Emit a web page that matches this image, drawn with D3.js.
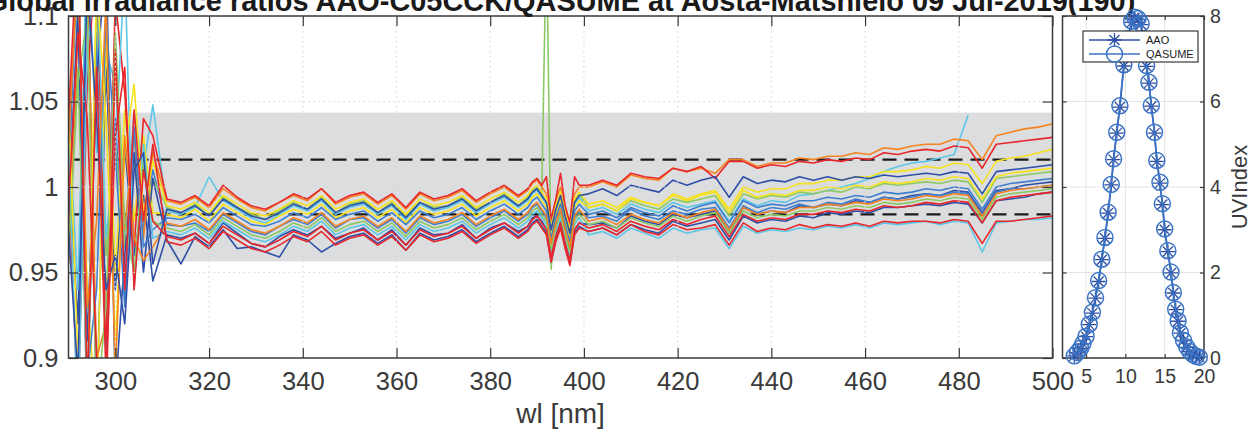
<!DOCTYPE html>
<html>
<head>
<meta charset="utf-8">
<script src="https://cdn.jsdelivr.net/npm/d3@7/dist/d3.min.js"></script>
<style>
  body { margin: 0; background: #fff; }
  svg { display: block; font-family: 'Liberation Sans', Arial, sans-serif; }
</style>
</head>
<body>
<div id="chart"></div>
<script>
// wavelength grid [nm]
const wl = [290, 292, 294, 296, 298, 300, 302, 304, 306, 308,
  311, 314, 317, 320, 323, 326, 329, 332, 335, 338, 341, 344, 347, 350, 353, 356, 359, 362, 365, 368, 371, 374, 377, 380, 383, 386,
  388, 389, 390, 391, 392, 393, 394, 395, 396, 397, 398, 399,
  401, 404, 407, 410, 413, 416, 419, 422, 425, 428, 431, 434, 437, 440, 443, 446, 449, 452, 455, 458, 461, 464, 467, 470, 473, 476, 479, 482, 485, 488, 491, 494, 497, 500];

// AAO/QASUME ratio of each scan, per mille away from 1 (null = no data)
const scan01 = [15, -80, 140, -130, 70, -60, 25, -40, -5, -55,
  -28, -30, -27, -33, -21, -27, -33, -35, -29, -25, -28, -23, -30, -27, -24, -31, -25, -34, -24, -28, -27, -22, -30, -24, -21, -26, -23, -18, -17, -20, -25, -40, -29, -20, -33, -42, -25, -21,
  -22, -21, -24, -17, -20, -22, -16, -18, -16, -14, -27, -12, -16, -14, -15, -11, -12, -10, -11, -8, -9, -6, -7, -5, -4, -5, -2, -3, -15, -2, -1, 1, 2, 3];
const scan02 = [-30, 110, -140, 90, -100, 40, -55, 20, -25, 10,
  -22, -23, -21, -26, -16, -21, -26, -28, -23, -19, -22, -16, -24, -19, -18, -24, -19, -27, -18, -22, -20, -16, -23, -18, -14, -20, -16, -12, -10, -14, -18, -34, -22, -14, -26, -36, -18, -14,
  -18, -17, -20, -13, -17, -19, -14, -16, -13, -12, -24, -11, -15, -12, -13, -10, -12, -9, -10, -7, -9, -6, -7, -6, -4, -5, -3, -4, -16, -3, -1, -1, 0, 1];
const scan03 = [40, -60, 150, 20, 80, 60, -30, 43, 10, 48,
  -14, -16, -12, 6, -8, -13, -18, -21, -16, -11, -14, -8, -16, -12, -10, -16, -11, -19, -10, -14, -12, -8, -15, -10, -6, -12, -8, -4, -2, -6, -10, -26, -14, -6, -18, -28, -10, -6,
  -14, -12, -16, -10, -13, -15, -9, -12, -10, -8, -20, -7, -11, -8, -9, -5, -4, -2, 0, 2, 5, 9, 12, 14, 15, 17, 19, 42, null, null, null, null, null, null];
const scan04 = [-20, 70, -120, 110, -40, 25, -35, 15, -20, 5,
  -12, -15, -10, -17, -6, -12, -16, -19, -14, -9, -13, -6, -15, -10, -8, -15, -9, -17, -9, -12, -11, -6, -13, -9, -4, -11, -6, -2, 0, -4, 150, -48, -12, -4, -16, -26, -8, -4,
  -12, -10, -14, -8, -11, -13, -7, -9, -7, -5, -17, -4, -7, -5, -6, -3, -4, -2, -3, 0, -1, 2, 1, 2, 3, 2, 4, 3, -9, 5, 6, 7, 8, 9];
const scan05 = [35, 120, -60, -140, 90, -50, 45, -20, 30, -15,
  -16, -18, -13, -20, -10, -15, -20, -22, -17, -13, -16, -10, -18, -14, -12, -18, -13, -21, -12, -16, -14, -10, -17, -12, -8, -14, -10, -6, -4, -8, -12, -28, -16, -8, -20, -30, -12, -8,
  -12, -10, -14, -7, -9, -11, -4, -7, -4, -2, -13, 0, -3, -1, -1, 2, 2, 4, 4, 6, 6, 9, 9, 10, 12, 11, 14, 13, 2, 15, 17, 18, 20, 22];
const scan06 = [-45, 90, 130, -100, -80, 70, -25, 30, -30, 20,
  -8, -10, -6, -12, -1, -7, -12, -14, -9, -5, -8, -1, -10, -6, -4, -10, -5, -13, -4, -8, -6, -2, -9, -4, 0, -6, -2, 2, 4, 0, -4, -20, -8, 0, -12, -22, -4, 0,
  0, 3, 0, 7, 5, 4, 11, 9, 11, 8, 16, 16, 12, 14, 14, 17, 16, 18, 18, 20, 19, 23, 22, 24, 25, 25, 28, 27, 16, 30, 32, 34, 35, 37];
const scan07 = [10, -130, 60, 140, -90, 110, 55, -35, 40, 30,
  -7, -9, -5, -11, 1, -6, -11, -13, -9, -4, -7, -1, -9, -5, -3, -9, -4, -12, -3, -7, -5, -1, -8, -3, 1, -5, -1, 3, 5, 1, 6, -19, -7, 8, -11, -21, 6, 1,
  1, 4, 1, 8, 6, 5, 11, 9, 12, 5, 15, 15, 11, 13, 12, 15, 14, 16, 15, 17, 16, 20, 19, 21, 22, 21, 24, 23, 11, 25, 26, 27, 28, 29];
const scan08 = [-15, 100, -90, 60, 140, -120, -40, 20, -50, 5,
  -31, -45, -29, -35, -25, -36, -35, -38, -41, -28, -31, -38, -33, -29, -27, -33, -28, -37, -27, -31, -29, -25, -32, -27, -23, -29, -25, -21, -19, -23, -27, -43, -31, -23, -35, -45, -27, -23,
  -26, -24, -28, -22, -25, -27, -20, -23, -21, -19, -31, -17, -21, -19, -20, -17, -18, -15, -16, -14, -15, -12, -12, -11, -10, -11, -9, -10, -21, -8, -7, -6, -4, -3];
const scan09 = [0, 140, -110, -60, 100, 20, -70, 35, -35, -25,
  -18, -19, -16, -21, -12, -17, -22, -23, -20, -15, -18, -12, -19, -16, -14, -20, -15, -22, -14, -18, -16, -12, -19, -14, -10, -16, -12, -8, -6, -10, -14, -30, -18, -10, -22, -32, -14, -10,
  -16, -14, -18, -12, -15, -17, -11, -14, -11, -9, -21, -8, -12, -10, -11, -8, -8, -6, -7, -5, -6, -3, -4, -3, -1, -2, 0, -1, -13, 0, 2, 3, 4, 5];
const scan10 = [30, -140, 80, 130, -30, 20, 130, -60, 25, -30,
  -26, -28, -24, -30, -20, -25, -30, -32, -28, -23, -26, -20, -28, -24, -22, -28, -23, -31, -22, -26, -24, -20, -27, -22, -18, -24, -20, -16, -14, -18, -22, -38, -26, -18, -30, -40, -22, -18,
  -28, -26, -30, -24, -27, -30, -24, -27, -25, -24, -36, -23, -27, -25, -26, -24, -25, -23, -24, -22, -24, -21, -22, -21, -20, -22, -20, -21, -38, -21, -20, -19, -19, -18];
const scan11 = [-40, 60, 100, -130, -70, 90, -20, -50, 15, -20,
  -24, -26, -22, -28, -18, -23, -28, -30, -26, -21, -24, -18, -26, -22, -20, -26, -21, -29, -20, -24, -22, -18, -25, -20, -16, -22, -18, -14, -12, -16, -20, -36, -24, -16, -28, -38, -20, -16,
  -22, -20, -24, -18, -21, -23, -17, -20, -17, -15, -27, -14, -18, -16, -17, -14, -14, -12, -13, -11, -12, -9, -10, -9, -7, -8, -6, -7, -19, -6, -4, -3, -2, -1];
const scan12 = [50, -100, -130, 120, 40, -90, 20, 60, -15, 15,
  -11, -13, -9, -15, -5, -10, -15, -17, -13, -8, -11, -5, -13, -9, -7, -13, -8, -16, -7, -11, -9, -5, -12, -7, -3, -9, -5, -1, 1, -3, -7, -23, -11, -3, -15, -25, -7, -3,
  -10, -8, -12, -6, -9, -11, -5, -8, -5, -3, -15, -2, -6, -4, -5, -2, -2, 0, -1, 1, 0, 3, 2, 3, 5, 4, 6, 5, -7, 6, 8, 9, 10, 11];
const scan13 = [25, 130, -70, -20, 110, -110, 30, -30, -43, -35,
  -21, -23, -19, -25, -15, -20, -25, -27, -23, -18, -21, -15, -23, -19, -17, -23, -18, -26, -17, -21, -19, -15, -22, -17, -13, -19, -15, -11, -9, -13, -17, -33, -21, -13, -25, -35, -17, -13,
  -20, -18, -22, -16, -19, -21, -15, -18, -15, -13, -25, -12, -16, -14, -15, -12, -12, -10, -11, -9, -10, -7, -8, -7, -5, -6, -4, -5, -17, -4, -2, -1, 0, 1];
const scan14 = [-10, 90, 40, -100, -130, 80, -60, 45, -20, 25,
  -32, -34, -30, -36, -26, -31, -36, -38, -34, -29, -32, -26, -34, -30, -28, -34, -29, -37, -28, -32, -30, -26, -33, -28, -24, -30, -26, -22, -20, -24, -28, -44, -32, -24, -36, -46, -28, -24,
  -26, -24, -28, -22, -26, -28, -22, -25, -24, -22, -34, -21, -26, -24, -25, -22, -24, -22, -23, -21, -23, -20, -21, -20, -20, -21, -19, -20, -33, -20, -20, -19, -18, -17];
const scan15 = [-25, -110, 120, 40, -60, -40, -80, 10, 20, -45,
  -13, -15, -11, -17, -7, -12, -17, -19, -15, -10, -13, -7, -15, -11, -9, -15, -10, -18, -9, -13, -11, -7, -14, -9, -5, -11, -7, -3, -1, -5, -9, -25, -13, -5, -17, -27, -9, -5,
  -4, -1, -5, 1, -1, -3, 4, 1, 4, 6, -6, 6, 2, 4, 3, 6, 4, 6, 4, 6, 5, 7, 6, 7, 8, 7, 9, 8, -4, 9, 10, 11, 12, 13];
const scan16 = [40, 150, -120, 70, -110, 30, 70, -60, 10, -20,
  -29, -31, -27, -33, -23, -28, -33, -35, -31, -26, -29, -23, -31, -27, -25, -31, -26, -34, -25, -29, -27, -23, -30, -25, -21, -27, -23, -19, -17, -21, -25, -41, -29, -21, -33, -43, -25, -21,
  -24, -22, -26, -20, -23, -25, -19, -22, -19, -17, -29, -16, -20, -18, -19, -16, -16, -14, -15, -13, -14, -11, -12, -11, -9, -10, -8, -9, -21, -8, -6, -5, -4, -3];

const scans = [scan01, scan02, scan03, scan04, scan05, scan06, scan07, scan08,
  scan09, scan10, scan11, scan12, scan13, scan14, scan15, scan16];
const scanColors = ['#2f4fa6', '#3f7fd0', '#5cc6e6', '#8cc965', '#f6e21c', '#f6831f', '#e8262b', '#2f4fa6',
  '#3f7fd0', '#5cc6e6', '#8cc965', '#f6e21c', '#f6831f', '#e8262b', '#2f4fa6', '#e8262b'];

// UV index during the day
const hours = [3.5, 3.9, 4.3, 4.6, 5.0, 5.4, 5.8, 6.2, 6.6, 7.0, 7.4, 7.8, 8.2, 8.5, 8.9, 9.3, 9.8, 10.3, 10.8, 11.2, 11.6, 12.0,
  12.4, 12.7, 13.0, 13.3, 13.7, 14.0, 14.4, 14.7, 15.0, 15.4, 15.8, 16.1, 16.4, 16.7, 17.0, 17.4, 17.8, 18.2, 18.6, 19.0, 19.4];
const uvAAO = [0.05, 0.12, 0.22, 0.33, 0.50, 0.78, 1.05, 1.40, 1.79, 2.30, 2.80, 3.39, 4.05, 4.64, 5.26, 5.87, 6.83, 7.45, 7.85, 7.95, 7.92, 7.80,
  7.30, 6.82, 6.43, 5.89, 5.26, 4.60, 4.09, 3.59, 3.00, 2.49, 1.99, 1.52, 1.13, 0.86, 0.58, 0.40, 0.25, 0.15, 0.08, 0.04, 0.02];
const uvQASUME = [0.05, 0.13, 0.23, 0.34, 0.51, 0.79, 1.07, 1.41, 1.81, 2.31, 2.82, 3.41, 4.06, 4.66, 5.28, 5.90, 6.86, 7.47, 7.88, 7.97, 7.94, 7.82,
  7.33, 6.84, 6.45, 5.91, 5.28, 4.62, 4.11, 3.61, 3.02, 2.51, 2.01, 1.53, 1.14, 0.87, 0.59, 0.41, 0.26, 0.15, 0.08, 0.04, 0.02];

const wlTicks = [300, 320, 340, 360, 380, 400, 420, 440, 460, 480, 500];
const ratioTicks = [0.9, 0.95, 1, 1.05, 1.1];
const hourTicks = [5, 10, 15, 20];
const uvTicks = [0, 2, 4, 6, 8];
const bandLimit = 0.0435;
const dashLimit = 0.016;

const titleText = 'Global irradiance ratios AAO-C05CCK/QASUME at Aosta-Matsnielo 09 Jul-2019(190)';

const width = 1260, height = 441;
const main = { left: 68.5, right: 1052.5, top: 16, bottom: 358 };
const side = { left: 1062.5, right: 1204, top: 16, bottom: 358 };
const axisColor = '#3a3a3a';

const svg = d3.select('#chart')
  .append('svg')
  .attr('width', width)
  .attr('height', height);

// ---------- left panel: spectral ratios ----------
const x = d3.scaleLinear().domain([290, 500]).range([main.left, main.right]);
const y = d3.scaleLinear().domain([0.9, 1.1]).range([main.bottom, main.top]);

svg.append('clipPath')
  .attr('id', 'clip-main')
  .append('rect')
  .attr('x', main.left)
  .attr('y', main.top)
  .attr('width', main.right - main.left)
  .attr('height', main.bottom - main.top);

const plot = svg.append('g').attr('clip-path', 'url(#clip-main)');

// grey band
plot.append('rect')
  .attr('x', main.left)
  .attr('y', y(1 + bandLimit))
  .attr('width', main.right - main.left)
  .attr('height', y(1 - bandLimit) - y(1 + bandLimit))
  .attr('fill', '#dcdddf');

// dashed limits
plot.selectAll('.limit')
  .data([1 + dashLimit, 1 - dashLimit])
  .join('line')
  .attr('x1', main.left)
  .attr('x2', main.right)
  .attr('y1', (d) => y(d))
  .attr('y2', (d) => y(d))
  .attr('stroke', '#1a1a1a')
  .attr('stroke-width', 2.4)
  .attr('stroke-dasharray', '14,8');

const ratioLine = d3.line()
  .defined((d) => d !== null)
  .x((d, i) => x(wl[i]))
  .y((d) => y(1 + d / 1000));

plot.append('g')
  .selectAll('path')
  .data(scans)
  .join('path')
  .attr('d', ratioLine)
  .attr('fill', 'none')
  .attr('stroke', (d, i) => scanColors[i])
  .attr('stroke-width', 1.6)
  .attr('stroke-linejoin', 'round');

// dotted grid on top
const grid = svg.append('g')
  .attr('stroke', '#d8d8d8')
  .attr('stroke-width', 1.2)
  .attr('stroke-dasharray', '1.5,3.5');
grid.selectAll('.gx')
  .data(wlTicks.filter((d) => d < 500))
  .join('line')
  .attr('x1', (d) => x(d))
  .attr('x2', (d) => x(d))
  .attr('y1', main.top)
  .attr('y2', main.bottom);
grid.selectAll('.gy')
  .data([0.95, 1, 1.05])
  .join('line')
  .attr('x1', main.left)
  .attr('x2', main.right)
  .attr('y1', (d) => y(d))
  .attr('y2', (d) => y(d));

// axes, ticks inside
function styleAxis(g, size) {
  g.select('.domain').remove();
  g.selectAll('line').attr('stroke', axisColor).attr('stroke-width', 1.2);
  g.selectAll('text').attr('fill', axisColor).style('font-size', size + 'px');
}

svg.append('g')
  .attr('transform', `translate(0,${main.bottom})`)
  .call(d3.axisBottom(x).tickValues(wlTicks).tickSizeInner(-10).tickSizeOuter(0).tickPadding(14))
  .call((g) => styleAxis(g, 25.5));
svg.append('g')
  .attr('transform', `translate(0,${main.top})`)
  .call(d3.axisTop(x).tickValues(wlTicks).tickSizeInner(-10).tickSizeOuter(0).tickFormat(''))
  .call((g) => styleAxis(g, 25.5));
svg.append('g')
  .attr('transform', `translate(${main.left},0)`)
  .call(d3.axisLeft(y).tickValues(ratioTicks).tickSizeInner(-10).tickSizeOuter(0).tickPadding(10).tickFormat(d3.format('')))
  .call((g) => styleAxis(g, 25.5));
svg.append('g')
  .attr('transform', `translate(${main.right},0)`)
  .call(d3.axisRight(y).tickValues(ratioTicks).tickSizeInner(-10).tickSizeOuter(0).tickFormat(''))
  .call((g) => styleAxis(g, 25.5));

svg.append('rect')
  .attr('x', main.left)
  .attr('y', main.top)
  .attr('width', main.right - main.left)
  .attr('height', main.bottom - main.top)
  .attr('fill', 'none')
  .attr('stroke', axisColor)
  .attr('stroke-width', 1.5);

svg.append('text')
  .attr('x', (main.left + main.right) / 2)
  .attr('y', 423)
  .attr('text-anchor', 'middle')
  .attr('fill', axisColor)
  .style('font-size', '28px')
  .text('wl [nm]');

// title, partly above the top edge as in the source figure
const title = svg.append('text')
  .attr('x', (main.left + main.right) / 2)
  .attr('y', 11)
  .attr('text-anchor', 'middle')
  .attr('fill', '#1a1a1a')
  .style('font-size', '26px')
  .style('font-weight', 'bold')
  .text(titleText);
const titleWidth = title.node().getComputedTextLength();
title.style('font-size', (26 * 1150 / titleWidth) + 'px');

// ---------- right panel: UV index ----------
const xh = d3.scaleLinear().domain([2, 20]).range([side.left, side.right]);
const yu = d3.scaleLinear().domain([0, 8]).range([side.bottom, side.top]);

const sideGrid = svg.append('g').attr('stroke', '#e4e4e4').attr('stroke-width', 1);
sideGrid.selectAll('.gx')
  .data(hourTicks)
  .join('line')
  .attr('x1', (d) => xh(d))
  .attr('x2', (d) => xh(d))
  .attr('y1', side.top)
  .attr('y2', side.bottom);
sideGrid.selectAll('.gy')
  .data(uvTicks)
  .join('line')
  .attr('x1', side.left)
  .attr('x2', side.right)
  .attr('y1', (d) => yu(d))
  .attr('y2', (d) => yu(d));

svg.append('g')
  .attr('transform', `translate(0,${side.bottom})`)
  .call(d3.axisBottom(xh).tickValues(hourTicks).tickSizeInner(-4).tickSizeOuter(0).tickPadding(11))
  .call((g) => styleAxis(g, 19.5));
svg.append('g')
  .attr('transform', `translate(0,${side.top})`)
  .call(d3.axisTop(xh).tickValues(hourTicks).tickSizeInner(-4).tickSizeOuter(0).tickFormat(''))
  .call((g) => styleAxis(g, 19.5));
svg.append('g')
  .attr('transform', `translate(${side.right},0)`)
  .call(d3.axisRight(yu).tickValues(uvTicks).tickSizeInner(-4).tickSizeOuter(0).tickPadding(6))
  .call((g) => styleAxis(g, 19.5));
svg.append('g')
  .attr('transform', `translate(${side.left},0)`)
  .call(d3.axisLeft(yu).tickValues(uvTicks).tickSizeInner(-4).tickSizeOuter(0).tickFormat(''))
  .call((g) => styleAxis(g, 19.5));

svg.append('rect')
  .attr('x', side.left)
  .attr('y', side.top)
  .attr('width', side.right - side.left)
  .attr('height', side.bottom - side.top)
  .attr('fill', 'none')
  .attr('stroke', axisColor)
  .attr('stroke-width', 1.5);

const aaoColor = '#2d4ea4';
const qasumeColor = '#3b74c4';
const starPath = 'M-7,0H7M0,-7V7M-5,-5L5,5M-5,5L5,-5';

const uvLine = (values) => d3.line()
  .x((d, i) => xh(hours[i]))
  .y((d) => yu(d))(values);

svg.append('path')
  .attr('d', uvLine(uvAAO))
  .attr('fill', 'none')
  .attr('stroke', aaoColor)
  .attr('stroke-width', 1.5);
svg.append('g')
  .selectAll('path')
  .data(uvAAO)
  .join('path')
  .attr('transform', (d, i) => `translate(${xh(hours[i])},${yu(d)})`)
  .attr('d', starPath)
  .attr('fill', 'none')
  .attr('stroke', aaoColor)
  .attr('stroke-width', 1.3);

svg.append('path')
  .attr('d', uvLine(uvQASUME))
  .attr('fill', 'none')
  .attr('stroke', qasumeColor)
  .attr('stroke-width', 1.8);
svg.append('g')
  .selectAll('circle')
  .data(uvQASUME)
  .join('circle')
  .attr('cx', (d, i) => xh(hours[i]))
  .attr('cy', (d) => yu(d))
  .attr('r', 8)
  .attr('fill', 'none')
  .attr('stroke', qasumeColor)
  .attr('stroke-width', 1.5);

// legend
const legend = svg.append('g');
legend.append('rect')
  .attr('x', 1083)
  .attr('y', 31)
  .attr('width', 115)
  .attr('height', 31)
  .attr('fill', '#fff')
  .attr('stroke', axisColor)
  .attr('stroke-width', 1.2);
const legendItems = [
  { name: 'AAO', color: aaoColor, y: 40 },
  { name: 'QASUME', color: qasumeColor, y: 54 }
];
legendItems.forEach((item) => {
  legend.append('line')
    .attr('x1', 1089)
    .attr('x2', 1140)
    .attr('y1', item.y)
    .attr('y2', item.y)
    .attr('stroke', item.color)
    .attr('stroke-width', 1.6);
  if (item.name === 'AAO') {
    legend.append('path')
      .attr('transform', `translate(1114.5,${item.y})`)
      .attr('d', starPath)
      .attr('fill', 'none')
      .attr('stroke', item.color)
      .attr('stroke-width', 1.3);
  } else {
    legend.append('circle')
      .attr('cx', 1114.5)
      .attr('cy', item.y)
      .attr('r', 8)
      .attr('fill', 'none')
      .attr('stroke', item.color)
      .attr('stroke-width', 1.5);
  }
  legend.append('text')
    .attr('x', 1146)
    .attr('y', item.y)
    .attr('dy', '0.35em')
    .attr('fill', '#1a1a1a')
    .style('font-size', '11px')
    .text(item.name);
});

svg.append('text')
  .attr('transform', 'translate(1247,187) rotate(-90)')
  .attr('text-anchor', 'middle')
  .attr('fill', axisColor)
  .style('font-size', '22px')
  .text('UVIndex');
</script>
</body>
</html>
